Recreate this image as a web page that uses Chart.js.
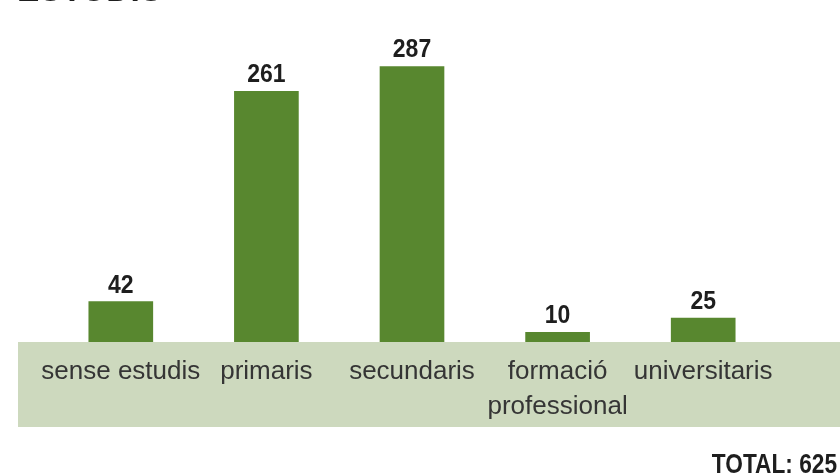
<!DOCTYPE html>
<html>
<head>
<meta charset="utf-8">
<script src="https://cdn.jsdelivr.net/npm/chart.js@4/dist/chart.umd.min.js"></script>
<style>
html,body{margin:0;padding:0;background:#fff;}
canvas{display:block;}
</style>
</head>
<body>
<canvas id="c" width="840" height="475"></canvas>
<script>
const categories = [["sense estudis"], ["primaris"], ["secundaris"], ["formació", "professional"], ["universitaris"]];
const values = [42, 261, 287, 10, 25];
const titleText = "ESTUDIS";
const totalText = "TOTAL: 625";

const BAR = "#58872f";
const BAND = "#cdd9be";

const decor = {
  id: "decor",
  beforeDraw(chart) {
    const ctx = chart.ctx, a = chart.chartArea;
    ctx.save();
    ctx.fillStyle = "#ffffff";
    ctx.fillRect(0, 0, chart.width, chart.height);
    ctx.fillStyle = BAND;
    ctx.fillRect(18, a.bottom, chart.width - 18, 85);
    ctx.restore();
  },
  afterDatasetsDraw(chart) {
    const ctx = chart.ctx;
    const meta = chart.getDatasetMeta(0);
    ctx.save();
    ctx.fillStyle = "#1e1e1e";
    ctx.font = "bold 25px 'Liberation Sans', Arial, sans-serif";
    ctx.textAlign = "center";
    ctx.textBaseline = "alphabetic";
    meta.data.forEach((el, i) => {
      ctx.save();
      ctx.translate(el.x, el.y - 9);
      ctx.scale(0.92, 1);
      ctx.fillText(String(values[i]), 0, 0);
      ctx.restore();
    });
    ctx.restore();
  },
  afterDraw(chart) {
    const ctx = chart.ctx;
    ctx.save();
    ctx.fillStyle = "#1e1e1e";
    ctx.font = "bold 36px 'Liberation Sans', Arial, sans-serif";
    ctx.textAlign = "left";
    ctx.textBaseline = "alphabetic";
    ctx.translate(17, 1);
    ctx.scale(0.93, 1);
    ctx.fillText(titleText, 0, 0);
    ctx.restore();

    ctx.save();
    ctx.fillStyle = "#1e1e1e";
    ctx.font = "bold 27px 'Liberation Sans', Arial, sans-serif";
    ctx.textAlign = "right";
    ctx.textBaseline = "alphabetic";
    ctx.translate(837, 473);
    ctx.scale(0.84, 1);
    ctx.fillText(totalText, 0, 0);
    ctx.restore();
  }
};

new Chart(document.getElementById("c"), {
  type: "bar",
  data: {
    labels: categories,
    datasets: [{
      data: values,
      backgroundColor: BAR,
      borderWidth: 0,
      barThickness: 64
    }]
  },
  options: {
    responsive: false,
    animation: false,
    layout: { padding: { top: 54, left: 48, right: 64, bottom: 0 } },
    plugins: { legend: { display: false }, tooltip: { enabled: false }, title: { display: false } },
    scales: {
      x: {
        grid: { display: false, drawTicks: false },
        border: { display: false },
        ticks: {
          color: "#353535",
          padding: 13,
          maxRotation: 0,
          autoSkip: false,
          font: { family: "'Liberation Sans', Arial, sans-serif", size: 26, lineHeight: 1.33 }
        },
        afterFit(scale) { scale.height = 133; }
      },
      y: {
        display: false,
        min: 0,
        max: 300
      }
    }
  },
  plugins: [decor]
});
</script>
</body>
</html>
